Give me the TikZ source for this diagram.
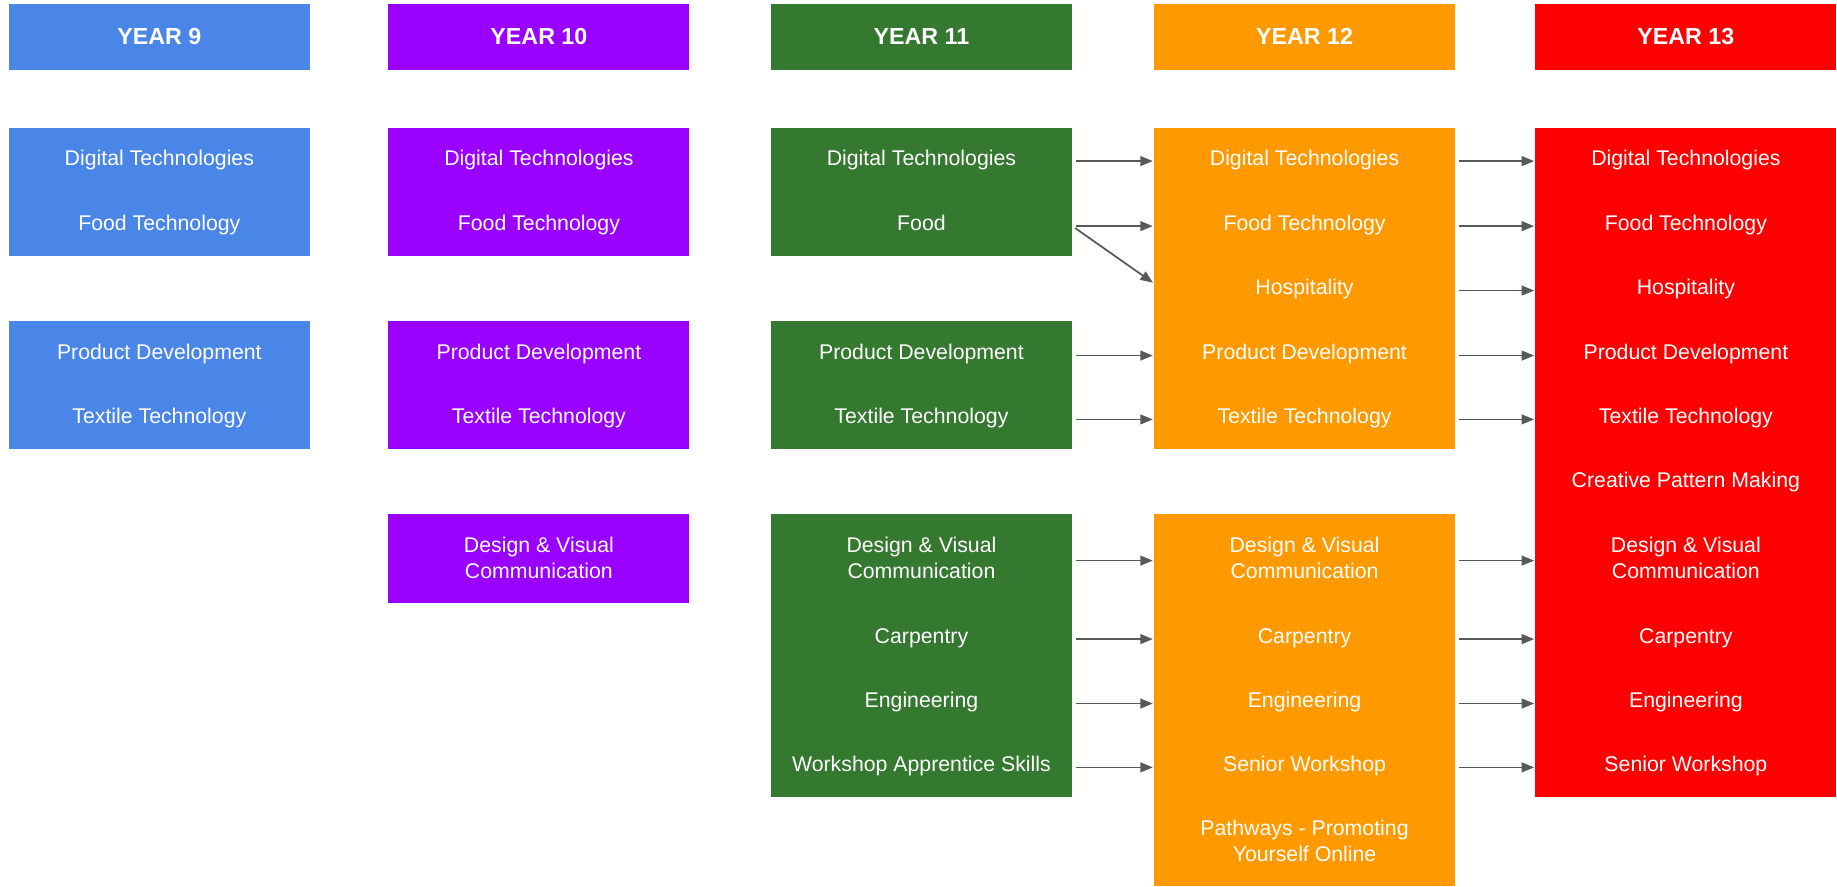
\documentclass[tikz,border=0pt]{standalone}
\usepackage{fontspec}
\setmainfont{Liberation Sans}
\usetikzlibrary{arrows.meta}
\definecolor{blue9}{HTML}{4A86E8}
\definecolor{purple10}{HTML}{9900FF}
\definecolor{green11}{HTML}{357830}
\definecolor{orange12}{HTML}{FF9900}
\definecolor{red13}{HTML}{FF0000}
\definecolor{arrowgrey}{HTML}{595959}

\begin{document}
\begin{tikzpicture}[x=0.6pt, y=-0.6pt,
      year/.style = {minimum width=154.2pt, minimum height=33.9pt, inner sep=0pt,
                     text=white, font=\bfseries\fontsize{11.9}{14}\selectfont},
     panel/.style = {minimum width=154.2pt, inner sep=0pt},
      item/.style = {minimum width=154.2pt, inner sep=0pt, text=white,
                     text height=0.716em, text depth=0pt,
                     font=\fontsize{10.9}{13.2}\selectfont},
  twoline/.style = {minimum width=154.2pt, inner sep=0pt, text=white,
                     align=center, font=\fontsize{10.9}{13.2}\selectfont},
       arr/.style = {-{Triangle[length=6.4pt,width=5pt]}, draw=arrowgrey,
                     line width=0.9pt, shorten <=1.7pt, shorten >=0.4pt}
                    ]
\useasboundingbox (0,0) rectangle (1568,757);
% year headers
\node [year, fill=blue9]    (h9)  at (136,31.25)    {YEAR 9};
\node [year, fill=purple10] (h10) at (460,31.25)    {YEAR 10};
\node [year, fill=green11]  (h11) at (786.5,31.25)  {YEAR 11};
\node [year, fill=orange12] (h12) at (1113.5,31.25) {YEAR 12};
\node [year, fill=red13]    (h13) at (1439,31.25)   {YEAR 13};
% panels
\node [panel, fill=blue9, minimum height=65.5pt]     (p9a)  at (136,163.9) {};
\node [panel, fill=blue9, minimum height=65.5pt]     (p9b)  at (136,328.75) {};
\node [panel, fill=purple10, minimum height=65.5pt]  (p10a) at (460,163.9) {};
\node [panel, fill=purple10, minimum height=65.5pt]  (p10b) at (460,328.75) {};
\node [panel, fill=purple10, minimum height=45.8pt]  (p10c) at (460,476.85) {};
\node [panel, fill=green11, minimum height=65.5pt]   (p11a) at (786.5,163.9) {};
\node [panel, fill=green11, minimum height=65.5pt]   (p11b) at (786.5,328.75) {};
\node [panel, fill=green11, minimum height=145.1pt]  (p11c) at (786.5,559.65) {};
\node [panel, fill=orange12, minimum height=164.5pt] (p12a) at (1113.5,246.4) {};
\node [panel, fill=orange12, minimum height=190.7pt] (p12b) at (1113.5,597.6) {};
\node [panel, fill=red13, minimum height=342.8pt]    (p13)  at (1439,394.95) {};
% year 9
\node [item] (y9-dt) at (136,135)   {Digital Technologies};
\node [item] (y9-ft) at (136,190.5) {Food Technology};
\node [item] (y9-pd) at (136,301)   {Product Development};
\node [item] (y9-tt) at (136,355.5) {Textile Technology};
% year 10
\node [item]    (y10-dt)  at (460,135)   {Digital Technologies};
\node [item]    (y10-ft)  at (460,190.5) {Food Technology};
\node [item]    (y10-pd)  at (460,301)   {Product Development};
\node [item]    (y10-tt)  at (460,355.5) {Textile Technology};
\node [twoline] (y10-dvc) at (460,476)   {Design \& Visual\\Communication};
% year 11
\node [item]    (y11-dt)   at (786.5,135)   {Digital Technologies};
\node [item]    (y11-food) at (786.5,190.5) {Food};
\node [item]    (y11-pd)   at (786.5,301)   {Product Development};
\node [item]    (y11-tt)   at (786.5,355.5) {Textile Technology};
\node [twoline] (y11-dvc)  at (786.5,476)   {Design \& Visual\\Communication};
\node [item]    (y11-carp) at (786.5,543)   {Carpentry};
\node [item]    (y11-eng)  at (786.5,598)   {Engineering};
\node [item]    (y11-was)  at (786.5,652.5) {Workshop Apprentice Skills};
% year 12
\node [item]    (y12-dt)   at (1113.5,135)   {Digital Technologies};
\node [item]    (y12-ft)   at (1113.5,190.5) {Food Technology};
\node [item]    (y12-hosp) at (1113.5,245.5) {Hospitality};
\node [item]    (y12-pd)   at (1113.5,301)   {Product Development};
\node [item]    (y12-tt)   at (1113.5,355.5) {Textile Technology};
\node [twoline] (y12-dvc)  at (1113.5,476)   {Design \& Visual\\Communication};
\node [item]    (y12-carp) at (1113.5,543)   {Carpentry};
\node [item]    (y12-eng)  at (1113.5,598)   {Engineering};
\node [item]    (y12-sw)   at (1113.5,652.5) {Senior Workshop};
\node [twoline] (y12-path) at (1113.5,718)   {Pathways - Promoting\\Yourself Online};
% year 13
\node [item]    (y13-dt)   at (1439,135)   {Digital Technologies};
\node [item]    (y13-ft)   at (1439,190.5) {Food Technology};
\node [item]    (y13-hosp) at (1439,245.5) {Hospitality};
\node [item]    (y13-pd)   at (1439,301)   {Product Development};
\node [item]    (y13-tt)   at (1439,355.5) {Textile Technology};
\node [item]    (y13-cpm)  at (1439,410.5) {Creative Pattern Making};
\node [twoline] (y13-dvc)  at (1439,476)   {Design \& Visual\\Communication};
\node [item]    (y13-carp) at (1439,543)   {Carpentry};
\node [item]    (y13-eng)  at (1439,598)   {Engineering};
\node [item]    (y13-sw)   at (1439,652.5) {Senior Workshop};
%%
\path [transform canvas={yshift=-1.5pt}]
    (y11-dt)   edge[arr] (y12-dt)
    (y11-food) edge[arr] (y12-ft)
    (y11-food.east) edge[arr] (y12-hosp.north west)
    (y11-pd)   edge[arr] (y12-pd)
    (y11-tt)   edge[arr] (y12-tt)
    (y11-dvc)  edge[arr] (y12-dvc)
    (y11-carp) edge[arr] (y12-carp)
    (y11-eng)  edge[arr] (y12-eng)
    (y11-was)  edge[arr] (y12-sw)
    (y12-dt)   edge[arr] (y13-dt)
    (y12-ft)   edge[arr] (y13-ft)
    (y12-hosp) edge[arr] (y13-hosp)
    (y12-pd)   edge[arr] (y13-pd)
    (y12-tt)   edge[arr] (y13-tt)
    (y12-dvc)  edge[arr] (y13-dvc)
    (y12-carp) edge[arr] (y13-carp)
    (y12-eng)  edge[arr] (y13-eng)
    (y12-sw)   edge[arr] (y13-sw);
\end{tikzpicture}
\end{document}
